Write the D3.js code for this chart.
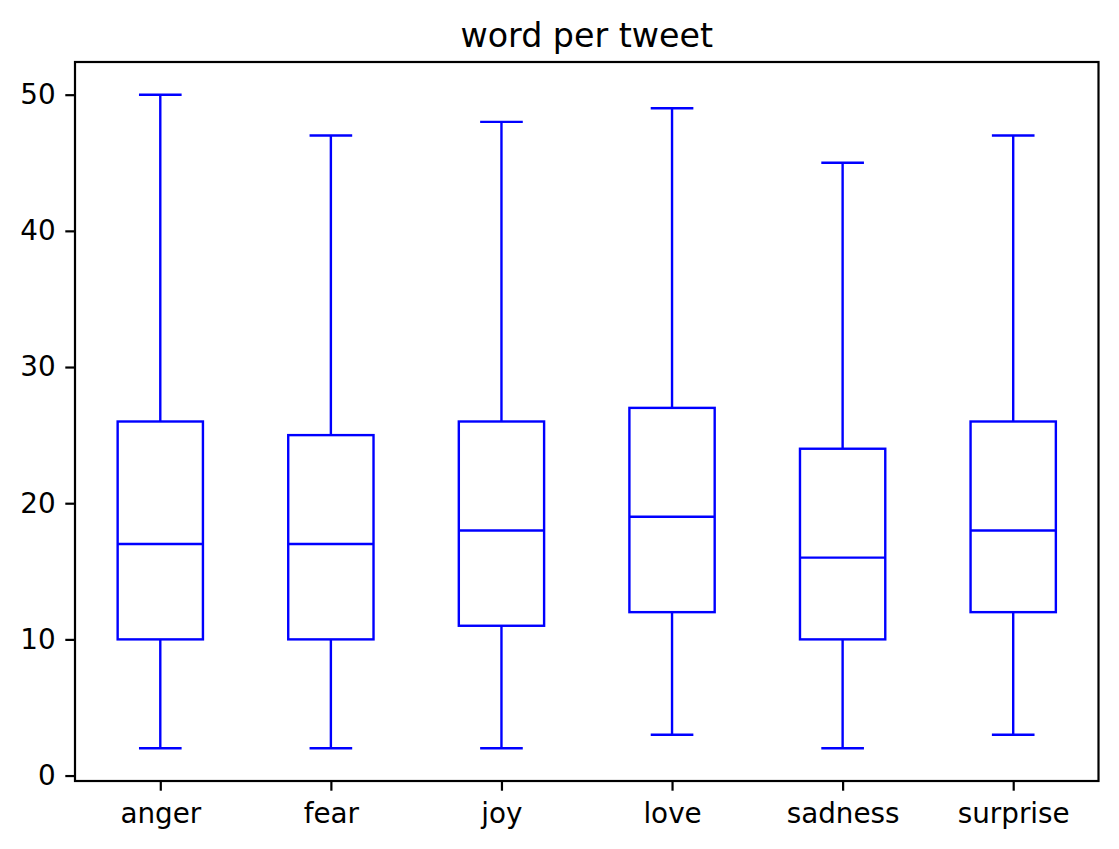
<!DOCTYPE html>
<html><head><meta charset="utf-8">
<script src="https://cdn.jsdelivr.net/npm/d3@7"></script>
<style>body{margin:0;background:#fff}</style>
</head><body>
<svg id="c" width="1119" height="849"></svg>
<script>
const categories = ["anger","fear","joy","love","sadness","surprise"];
const whiskerLow = [2,2,2,3,2,3];
const q1 = [10,10,11,12,10,12];
const median = [17,17,18,19,16,18];
const q3 = [26,25,26,27,24,26];
const whiskerHigh = [50,47,48,49,45,47];
const yTicks = [0,10,20,30,40,50];

const svg = d3.select("#c");
const L=75, R=1098.5, T=62, B=781;
const x = d3.scaleLinear().domain([0.5,6.5]).range([L,R]);
const y = d3.scaleLinear().domain([-0.4,52.4]).range([B,T]);
const blue="#0000ff", lw=2.4;
const font="DejaVu Sans, sans-serif";

const data = categories.map((c,i)=>({c,pos:i+1,lo:whiskerLow[i],q1:q1[i],med:median[i],q3:q3[i],hi:whiskerHigh[i]}));
const g = svg.append("g");
const bw=0.25, cw=0.125;
data.forEach(d=>{
  const gg=g.append("g").attr("stroke",blue).attr("stroke-width",lw).attr("fill","none");
  gg.append("rect").attr("x",x(d.pos-bw)).attr("y",y(d.q3)).attr("width",x(d.pos+bw)-x(d.pos-bw)).attr("height",y(d.q1)-y(d.q3));
  gg.append("line").attr("x1",x(d.pos-bw)).attr("x2",x(d.pos+bw)).attr("y1",y(d.med)).attr("y2",y(d.med));
  gg.append("line").attr("x1",x(d.pos)).attr("x2",x(d.pos)).attr("y1",y(d.q3)).attr("y2",y(d.hi));
  gg.append("line").attr("x1",x(d.pos)).attr("x2",x(d.pos)).attr("y1",y(d.q1)).attr("y2",y(d.lo));
  gg.append("line").attr("x1",x(d.pos-cw)).attr("x2",x(d.pos+cw)).attr("y1",y(d.hi)).attr("y2",y(d.hi));
  gg.append("line").attr("x1",x(d.pos-cw)).attr("x2",x(d.pos+cw)).attr("y1",y(d.lo)).attr("y2",y(d.lo));
});

const xAxis = d3.axisBottom(x).tickValues(data.map(d=>d.pos)).tickFormat((v,i)=>categories[i]).tickSize(9.7).tickPadding(12.5);
const yAxis = d3.axisLeft(y).tickValues(yTicks).tickSize(9.7).tickPadding(9.7);
const xa = svg.append("g").attr("transform",`translate(0,${B})`).call(xAxis);
const ya = svg.append("g").attr("transform",`translate(${L},0)`).call(yAxis);
[xa,ya].forEach(a=>{
  a.select(".domain").remove();
  a.selectAll(".tick line").attr("stroke","#000").attr("stroke-width",2.2);
  a.selectAll(".tick text").attr("font-family",font).attr("font-size",27.8).attr("fill","#000");
});
svg.append("rect").attr("x",L).attr("y",T).attr("width",R-L).attr("height",B-T).attr("fill","none").attr("stroke","#000").attr("stroke-width",2.2);
svg.append("text").attr("x",(L+R)/2).attr("y",T-15).attr("text-anchor","middle").attr("font-family",font).attr("font-size",33.3).text("word per tweet");
</script>
</body></html>
